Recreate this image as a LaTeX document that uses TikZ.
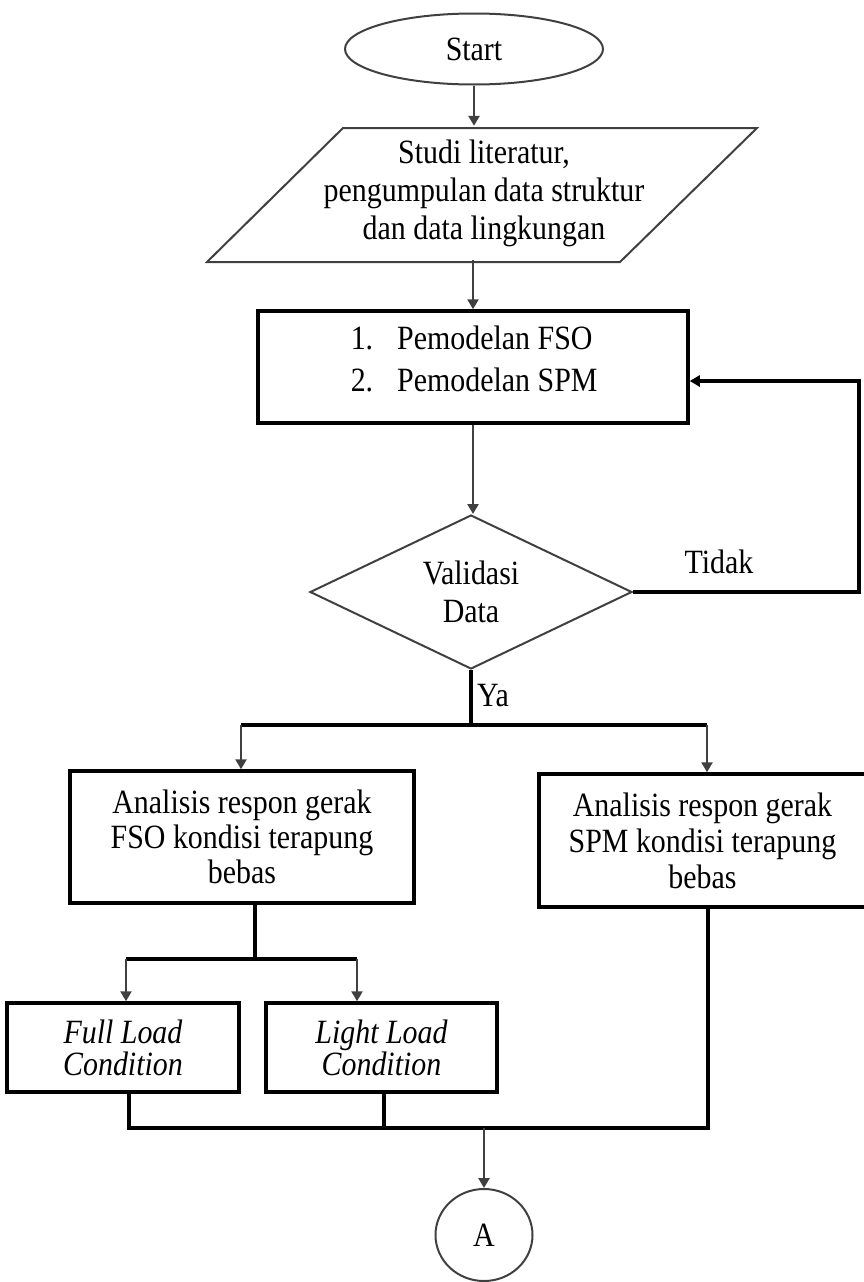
\documentclass[tikz,border=0pt]{standalone}
\usepackage{fontspec}
\setmainfont{Liberation Serif}[FakeStretch=0.88]
\usetikzlibrary{shapes.geometric,arrows.meta}
\begin{document}
\begin{tikzpicture}[x=1pt,y=-1pt,
  font=\fontsize{34}{38}\selectfont,
  thinshape/.style={draw=black!75, line width=2pt, inner sep=0pt, align=center},
  outline/.style={draw=black!75, line width=2pt},
  boxnode/.style={draw=black, line width=3.5pt, inner sep=0pt, align=center},
  plain/.style={inner sep=0pt, align=center},
  conn/.style={draw=black!75, line width=2.5pt},
  heavy/.style={draw=black, line width=3.2pt},
  arr/.style={conn, -{Triangle[width=11pt,length=10pt]}},
  harr/.style={heavy, -{Triangle[width=11pt,length=10pt]}},
]
\useasboundingbox (0,0) rectangle (863,1282);

% Start
\node[thinshape, ellipse, minimum width=258pt, minimum height=71pt] (start) at (474,49) {Start};

% Parallelogram (input)
\draw[outline] (343,128) -- (757,128) -- (620,262) -- (207,262) -- cycle;
\node[plain, minimum height=134pt] (lit) at (484,193) {Studi literatur,\\pengumpulan data struktur\\dan data lingkungan};
\draw[arr] (start.south) -- (start.south |- lit.north);

% Modelling box
\node[boxnode, minimum width=430pt, minimum height=112pt] (model) at (473,367) {};
\node[plain, align=left, anchor=west, font=\fontsize{34}{42}\selectfont] (modeltext) at (347,359)
  {\makebox[26pt][r]{1.}\hspace{24pt}Pemodelan FSO\\\makebox[26pt][r]{2.}\hspace{24pt}Pemodelan SPM};
\draw[arr] (model.north |- lit.south) -- (model.north);

% Decision
\node[thinshape, diamond, aspect=2, minimum width=322pt, minimum height=154pt] (valid) at (471,592) {Validasi\\Data};
\draw[arr] (model.south) -- (model.south |- valid.north);

% Feedback loop
\coordinate (loopc) at (859,381);
\draw[harr] (valid.east) -| (loopc) -- (model.east |- loopc);
\node[plain] (tidak) at (719,562) {Tidak};

% Branch Ya
\node[plain] (ya) at (493,696) {Ya};
\coordinate (br) at (471,725);
\coordinate (bl) at (241,725);
\coordinate (brr) at (707,725);
\draw[heavy] (valid.south) -- (br);
\draw[heavy] (bl) -- (brr);

% Analysis boxes
\node[boxnode, minimum width=344pt, minimum height=132pt, font=\fontsize{34}{35}\selectfont] (fso) at (242,837)
  {Analisis respon gerak\\FSO kondisi terapung\\bebas};
\node[boxnode, minimum width=327pt, minimum height=133pt, font=\fontsize{34}{36}\selectfont] (spm) at (702.5,840.5)
  {Analisis respon gerak\\SPM kondisi terapung\\bebas};
\draw[arr] (bl) -- (bl |- fso.north);
\draw[arr] (brr) -- (brr |- spm.north);

% Load conditions
\coordinate (fd) at (255,959);
\coordinate (fl) at (126,959);
\coordinate (fr) at (357,959);
\draw[heavy] (fso.south -| fd) -- (fd);
\draw[heavy] (fl) -- (fr);
\node[boxnode, minimum width=232pt, minimum height=89pt, font=\itshape\fontsize{34}{32}\selectfont] (full) at (123,1047.5)
  {Full Load\\Condition};
\node[boxnode, minimum width=231pt, minimum height=89pt, font=\itshape\fontsize{34}{32}\selectfont] (light) at (381.5,1047.5)
  {Light Load\\Condition};
\draw[arr] (fl) -- (fl |- full.north);
\draw[arr] (fr) -- (fr |- light.north);

% Merge
\coordinate (m1) at (129,1128);
\coordinate (m2) at (384,1128);
\coordinate (m3) at (708,1128);
\coordinate (mA) at (484,1128);
\draw[heavy] (full.south -| m1) -- (m1) -- (m3) -- (spm.south -| m3);
\draw[heavy] (light.south -| m2) -- (m2);

% Connector A
\node[thinshape, ellipse, minimum width=97pt, minimum height=92pt] (conA) at (484,1235) {A};
\draw[arr] (mA) -- (conA.north);
\end{tikzpicture}
\end{document}
